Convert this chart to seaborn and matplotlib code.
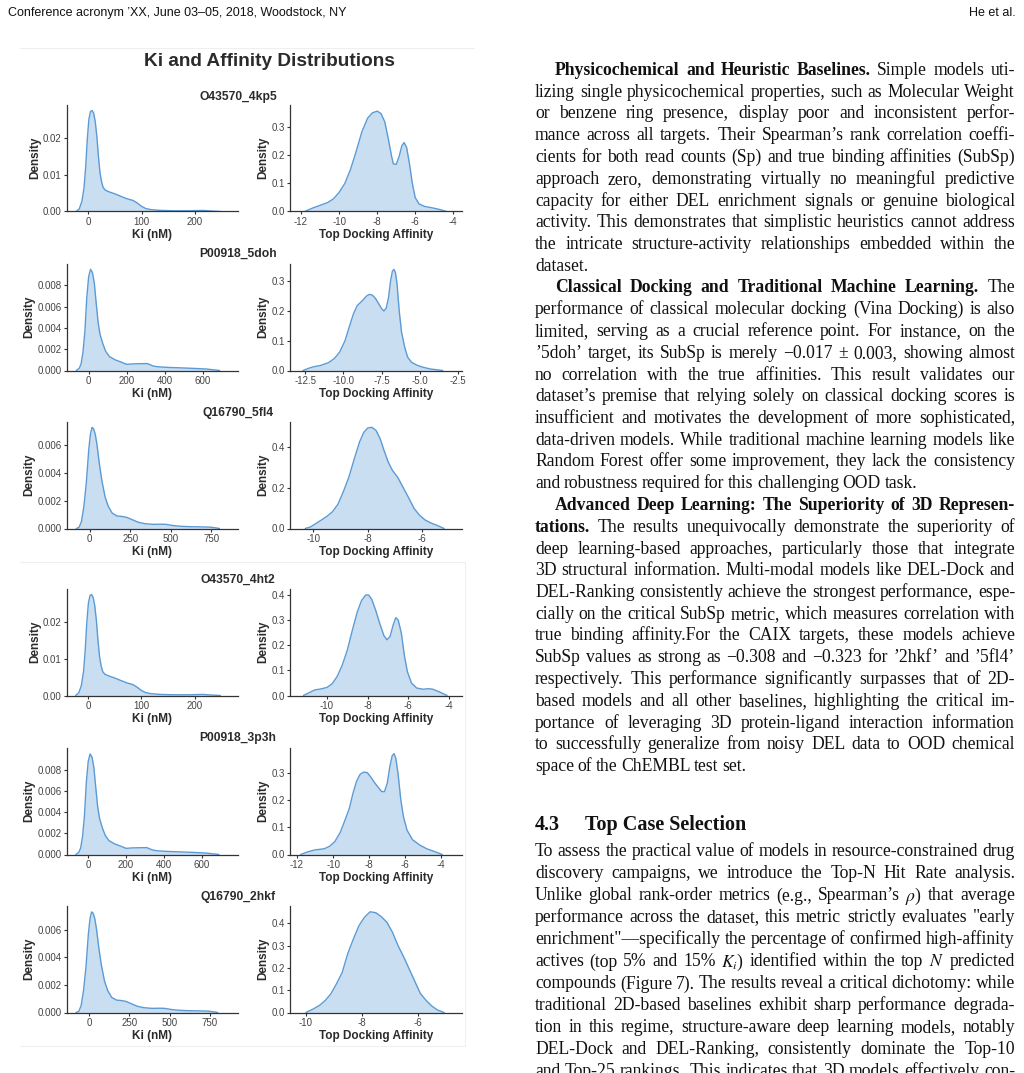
import matplotlib
matplotlib.use("Agg")
import matplotlib.pyplot as plt
from matplotlib.lines import Line2D
import seaborn as sns

# ---- data (density curves) ----
targets = ["O43570_4kp5", "P00918_5doh", "Q16790_5fl4",
           "O43570_4ht2", "P00918_3p3h", "Q16790_2hkf"]

ki_4kp5_x = [-23, -17, -12, -8, -5, -2, 1, 4, 7, 10, 13, 16, 19, 22, 25, 28, 32, 40, 50, 60,
             72, 84, 92, 100, 108, 118, 135, 160, 190, 215, 235, 248]
ki_4kp5_d = [0, 0.0007, 0.0028, 0.0065, 0.0120, 0.0195, 0.0250, 0.0272, 0.0275, 0.0268, 0.0245,
             0.0205, 0.0150, 0.0105, 0.0080, 0.0065, 0.0058, 0.0053, 0.0048, 0.0042, 0.0035,
             0.0030, 0.0023, 0.0014, 0.0008, 0.0005, 0.0003, 0.0002, 0.0002, 0.0003, 0.0001, 0]
aff_4kp5_x = [-11.8, -11.4, -11.0, -10.6, -10.3, -10.0, -9.7, -9.4, -9.1, -8.8, -8.5, -8.25, -8.0,
              -7.8, -7.6, -7.4, -7.25, -7.15, -7.0, -6.85, -6.7, -6.58, -6.45, -6.3, -6.15, -6.0,
              -5.8, -5.5, -5.1, -4.7, -4.35]
aff_4kp5_d = [0, 0.012, 0.022, 0.032, 0.045, 0.068, 0.100, 0.150, 0.215, 0.285, 0.333, 0.352, 0.358,
              0.350, 0.320, 0.255, 0.200, 0.170, 0.168, 0.195, 0.235, 0.246, 0.228, 0.170, 0.100,
              0.050, 0.027, 0.018, 0.013, 0.007, 0]

ki_5doh_x = [-65, -50, -40, -30, -20, -10, 0, 10, 20, 30, 40, 50, 60, 75, 90, 110, 140, 170, 200,
             230, 270, 310, 340, 370, 420, 480, 550, 620, 660, 690]
ki_5doh_d = [0, 0.0002, 0.0006, 0.0017, 0.0036, 0.0068, 0.0088, 0.0095, 0.0092, 0.0082, 0.0063,
             0.0045, 0.0034, 0.0025, 0.0018, 0.0013, 0.0010, 0.0008, 0.00058, 0.00062, 0.00064,
             0.00065, 0.00042, 0.00034, 0.00029, 0.00025, 0.0002, 0.00014, 0.00006, 0]
aff_5doh_x = [-12.65, -12.3, -12.0, -11.5, -11.0, -10.6, -10.25, -9.9, -9.6, -9.35, -9.1, -8.9,
              -8.7, -8.5, -8.3, -8.1, -7.9, -7.7, -7.5, -7.35, -7.2, -7.05, -6.92, -6.8, -6.7,
              -6.6, -6.5, -6.35, -6.2, -6.0, -5.8, -5.55, -5.2, -4.8, -4.3, -3.5]
aff_5doh_d = [0, 0.007, 0.012, 0.017, 0.026, 0.040, 0.062, 0.100, 0.150, 0.190, 0.218, 0.228,
              0.238, 0.250, 0.256, 0.253, 0.242, 0.225, 0.208, 0.200, 0.210, 0.245, 0.300, 0.333,
              0.340, 0.330, 0.295, 0.200, 0.130, 0.080, 0.045, 0.028, 0.018, 0.011, 0.005, 0]

ki_5fl4_x = [-82, -65, -50, -35, -20, -5, 5, 15, 25, 35, 45, 60, 75, 95, 115, 140, 170, 200, 230,
             260, 300, 340, 390, 440, 470, 510, 560, 620, 680, 740, 780, 800]
ki_5fl4_d = [0, 0.00008, 0.0005, 0.0016, 0.0033, 0.0057, 0.0068, 0.0073, 0.0072, 0.0068, 0.0061,
             0.0047, 0.0035, 0.0023, 0.0016, 0.0011, 0.0009, 0.00087, 0.0008, 0.00065, 0.00045,
             0.00035, 0.0003, 0.00031, 0.0003, 0.00022, 0.00016, 0.00013, 0.00012, 0.0001,
             0.00004, 0]
aff_5fl4_x = [-10.3, -10.1, -9.9, -9.7, -9.5, -9.3, -9.1, -8.9, -8.7, -8.5, -8.3, -8.15, -8.0,
              -7.85, -7.7, -7.55, -7.4, -7.25, -7.1, -6.9, -6.7, -6.5, -6.3, -6.1, -5.9, -5.7,
              -5.45, -5.2]
aff_5fl4_d = [0, 0.008, 0.025, 0.042, 0.060, 0.082, 0.118, 0.180, 0.250, 0.340, 0.425, 0.470,
              0.492, 0.495, 0.480, 0.440, 0.380, 0.325, 0.285, 0.250, 0.200, 0.150, 0.098, 0.065,
              0.042, 0.028, 0.015, 0]

ki_4ht2_x = [-23, -17, -12, -8, -5, -2, 1, 4, 7, 10, 13, 16, 19, 22, 25, 28, 32, 40, 50, 60,
             72, 84, 92, 100, 108, 118, 135, 160, 190, 215, 235, 248]
ki_4ht2_d = [0, 0.0007, 0.0028, 0.0066, 0.0122, 0.0198, 0.0252, 0.0273, 0.0276, 0.0268, 0.0245,
             0.0205, 0.0150, 0.0105, 0.0080, 0.0065, 0.0058, 0.0053, 0.0048, 0.0042, 0.0035,
             0.0030, 0.0023, 0.0014, 0.0008, 0.0005, 0.0003, 0.0002, 0.0002, 0.0003, 0.0001, 0]
aff_4ht2_x = [-11.15, -10.9, -10.6, -10.3, -10.0, -9.75, -9.5, -9.25, -9.0, -8.75, -8.5, -8.3,
              -8.1, -7.95, -7.8, -7.6, -7.4, -7.2, -7.05, -6.9, -6.75, -6.62, -6.5, -6.35, -6.2,
              -6.05, -5.85, -5.6, -5.3, -5.0, -4.8, -4.5, -4.1]
aff_4ht2_d = [0, 0.010, 0.022, 0.026, 0.032, 0.046, 0.075, 0.120, 0.180, 0.260, 0.335, 0.378,
              0.400, 0.400, 0.383, 0.338, 0.285, 0.238, 0.222, 0.235, 0.280, 0.310, 0.300, 0.250,
              0.160, 0.095, 0.050, 0.030, 0.025, 0.027, 0.025, 0.015, 0]

ki_3p3h_x = [-65, -50, -40, -30, -20, -10, 0, 10, 20, 30, 40, 50, 60, 75, 90, 110, 140, 170, 200,
             230, 270, 310, 340, 370, 420, 480, 550, 620, 660, 690]
ki_3p3h_d = [0, 0.0002, 0.0006, 0.0017, 0.0036, 0.0068, 0.0088, 0.0095, 0.0092, 0.0082, 0.0063,
             0.0045, 0.0034, 0.0025, 0.0018, 0.0013, 0.0010, 0.0008, 0.00058, 0.00062, 0.00064,
             0.00065, 0.00042, 0.00034, 0.00029, 0.00025, 0.0002, 0.00014, 0.00006, 0]
aff_3p3h_x = [-11.8, -11.4, -11.0, -10.5, -10.2, -9.9, -9.6, -9.35, -9.1, -8.9, -8.7, -8.5, -8.3,
              -8.1, -7.9, -7.7, -7.5, -7.3, -7.15, -7.0, -6.85, -6.72, -6.62, -6.52, -6.4, -6.25,
              -6.1, -5.9, -5.6, -5.2, -4.8, -4.3, -3.95]
aff_3p3h_d = [0, 0.010, 0.017, 0.021, 0.030, 0.048, 0.082, 0.125, 0.170, 0.225, 0.270, 0.296,
              0.304, 0.302, 0.285, 0.265, 0.248, 0.232, 0.232, 0.262, 0.325, 0.365, 0.372, 0.355,
              0.300, 0.205, 0.140, 0.090, 0.055, 0.035, 0.021, 0.009, 0]

ki_2hkf_x = [-82, -65, -50, -35, -20, -5, 5, 15, 25, 35, 45, 60, 75, 95, 115, 140, 170, 200, 230,
             260, 300, 340, 390, 440, 470, 510, 560, 620, 680, 740, 780, 800]
ki_2hkf_d = [0, 0.00008, 0.0005, 0.0016, 0.0033, 0.0057, 0.0068, 0.0073, 0.0072, 0.0068, 0.0061,
             0.0047, 0.0035, 0.0023, 0.0016, 0.0011, 0.0009, 0.00087, 0.0008, 0.00065, 0.00045,
             0.00035, 0.0003, 0.00031, 0.0003, 0.00022, 0.00016, 0.00013, 0.00012, 0.0001,
             0.00004, 0]
aff_2hkf_x = [-10.0, -9.75, -9.5, -9.3, -9.1, -8.9, -8.7, -8.5, -8.3, -8.1, -7.9, -7.7, -7.5, -7.3,
              -7.1, -6.9, -6.7, -6.5, -6.3, -6.1, -5.9, -5.7, -5.5, -5.3, -5.05]
aff_2hkf_d = [0, 0.015, 0.033, 0.055, 0.085, 0.130, 0.180, 0.265, 0.330, 0.390, 0.428, 0.452,
              0.448, 0.430, 0.405, 0.360, 0.300, 0.250, 0.195, 0.140, 0.085, 0.055, 0.030, 0.012, 0]

ki_curves = [(ki_4kp5_x, ki_4kp5_d), (ki_5doh_x, ki_5doh_d), (ki_5fl4_x, ki_5fl4_d),
             (ki_4ht2_x, ki_4ht2_d), (ki_3p3h_x, ki_3p3h_d), (ki_2hkf_x, ki_2hkf_d)]
aff_curves = [(aff_4kp5_x, aff_4kp5_d), (aff_5doh_x, aff_5doh_d), (aff_5fl4_x, aff_5fl4_d),
              (aff_4ht2_x, aff_4ht2_d), (aff_3p3h_x, aff_3p3h_d), (aff_2hkf_x, aff_2hkf_d)]

# tick labels per row
ki_xticks = [[0, 100, 200], [0, 200, 400, 600], [0, 250, 500, 750],
             [0, 100, 200], [0, 200, 400, 600], [0, 250, 500, 750]]
ki_yticks = [[0, 0.01, 0.02], [0, 0.002, 0.004, 0.006, 0.008], [0, 0.002, 0.004, 0.006],
             [0, 0.01, 0.02], [0, 0.002, 0.004, 0.006, 0.008], [0, 0.002, 0.004, 0.006]]
aff_xticks = [[-12, -10, -8, -6, -4], [-12.5, -10, -7.5, -5, -2.5], [-10, -8, -6],
              [-10, -8, -6, -4], [-12, -10, -8, -6, -4], [-10, -8, -6]]
aff_yticks = [[0, 0.1, 0.2, 0.3], [0, 0.1, 0.2, 0.3], [0, 0.2, 0.4],
              [0, 0.1, 0.2, 0.3, 0.4], [0, 0.1, 0.2, 0.3], [0, 0.1, 0.2, 0.3, 0.4]]

# ---- text of the page ----
header_left = "Conference acronym ’XX, June 03–05, 2018, Woodstock, NY"
header_right = "He et al."

# each line: (indent, justify, [(text, bold), ...])
body_lines = [
    (True, True, [("Physicochemical and Heuristic Baselines.", True), ("Simple models uti-", False)]),
    (False, True, [("lizing single physicochemical properties, such as Molecular Weight", False)]),
    (False, True, [("or benzene ring presence, display poor and inconsistent perfor-", False)]),
    (False, True, [("mance across all targets. Their Spearman’s rank correlation coeffi-", False)]),
    (False, True, [("cients for both read counts (Sp) and true binding affinities (SubSp)", False)]),
    (False, True, [("approach zero, demonstrating virtually no meaningful predictive", False)]),
    (False, True, [("capacity for either DEL enrichment signals or genuine biological", False)]),
    (False, True, [("activity. This demonstrates that simplistic heuristics cannot address", False)]),
    (False, True, [("the intricate structure-activity relationships embedded within the", False)]),
    (False, False, [("dataset.", False)]),
    (True, True, [("Classical Docking and Traditional Machine Learning.", True), ("The", False)]),
    (False, True, [("performance of classical molecular docking (Vina Docking) is also", False)]),
    (False, True, [("limited, serving as a crucial reference point. For instance, on the", False)]),
    (False, True, [("’5doh’ target, its SubSp is merely −0.017 ± 0.003, showing almost", False)]),
    (False, True, [("no correlation with the true affinities. This result validates our", False)]),
    (False, True, [("dataset’s premise that relying solely on classical docking scores is", False)]),
    (False, True, [("insufficient and motivates the development of more sophisticated,", False)]),
    (False, True, [("data-driven models. While traditional machine learning models like", False)]),
    (False, True, [("Random Forest offer some improvement, they lack the consistency", False)]),
    (False, False, [("and robustness required for this challenging OOD task.", False)]),
    (True, True, [("Advanced Deep Learning: The Superiority of 3D Represen-", True)]),
    (False, True, [("tations.", True), ("The results unequivocally demonstrate the superiority of", False)]),
    (False, True, [("deep learning-based approaches, particularly those that integrate", False)]),
    (False, True, [("3D structural information. Multi-modal models like DEL-Dock and", False)]),
    (False, True, [("DEL-Ranking consistently achieve the strongest performance, espe-", False)]),
    (False, True, [("cially on the critical SubSp metric, which measures correlation with", False)]),
    (False, True, [("true binding affinity.For the CAIX targets, these models achieve", False)]),
    (False, True, [("SubSp values as strong as −0.308 and −0.323 for ’2hkf’ and ’5fl4’", False)]),
    (False, True, [("respectively. This performance significantly surpasses that of 2D-", False)]),
    (False, True, [("based models and all other baselines, highlighting the critical im-", False)]),
    (False, True, [("portance of leveraging 3D protein-ligand interaction information", False)]),
    (False, True, [("to successfully generalize from noisy DEL data to OOD chemical", False)]),
    (False, False, [("space of the ChEMBL test set.", False)]),
]
section_num = "4.3"
section_title = "Top Case Selection"
section_lines = [
    "To assess the practical value of models in resource-constrained drug",
    "discovery campaigns, we introduce the Top-N Hit Rate analysis.",
    r"Unlike global rank-order metrics (e.g., Spearman’s $\rho$) that average",
    "performance across the dataset, this metric strictly evaluates \"early",
    "enrichment\"—specifically the percentage of confirmed high-affinity",
    r"actives (top 5% and 15% $K_i$) identified within the top $N$ predicted",
    "compounds (Figure 7). The results reveal a critical dichotomy: while",
    "traditional 2D-based baselines exhibit sharp performance degrada-",
    "tion in this regime, structure-aware deep learning models, notably",
    "DEL-Dock and DEL-Ranking, consistently dominate the Top-10",
    "and Top-25 rankings. This indicates that 3D models effectively con-",
]

# ---- style ----
sns.set_theme(style="ticks")
SANS = ["Liberation Sans", "DejaVu Sans"]
SERIF = ["Liberation Serif", "DejaVu Serif"]
plt.rcParams["font.family"] = SANS
plt.rcParams["axes.unicode_minus"] = False
plt.rcParams["mathtext.fontset"] = "stix"

W, H = 1024, 1073
fig = plt.figure(figsize=(W / 100, H / 100), dpi=100)
fig.patch.set_facecolor("white")

line_c = "#5b9bd5"
dark = "#2b2b2b"


def fx(px):
    return px / W


def fy(py):
    return 1 - py / H


# axis ranges as in the original panels
ki_xlim = [(-40, 281), (-114, 787), (-139, 914), (-39, 281), (-112, 791), (-138, 926)]
ki_ylim = [0.0290, 0.0100, 0.00769, 0.0291, 0.01006, 0.00773]
aff_xlim = [(-12.58, -3.54), (-13.5, -2.24), (-10.86, -4.54), (-11.81, -3.37),
            (-12.39, -2.85), (-10.57, -4.41)]
aff_ylim = [0.380, 0.358, 0.521, 0.424, 0.393, 0.478]

# faint borders of the pasted figure images
for (xa, ya, xb, yb) in [(20, 48, 474, 48), (20, 562, 465, 562), (465, 562, 465, 1046), (20, 1046, 465, 1046)]:
    fig.add_artist(Line2D([fx(xa), fx(xb)], [fy(ya), fy(yb)], color="#efefef", lw=0.8))

fig.text(fx(269), fy(62), "Ki and Affinity Distributions", ha="center", va="center",
         fontsize=13.7, fontweight="bold", color=dark)

row_tops = [105, 264, 422, 589, 748, 906]
sub_y = [97, 254, 413, 580, 738, 897]
ax_h = 106.5

for i in range(6):
    fig.text(fx(238), fy(sub_y[i]), targets[i], ha="center", va="center",
             fontsize=8.7, fontweight="bold", color=dark)
    for j, (x0, x1) in enumerate([(67, 238), (290, 462)]):
        ax = fig.add_axes([fx(x0), fy(row_tops[i] + ax_h), (x1 - x0) / W, ax_h / H])
        if j == 0:
            xs, ds = ki_curves[i]
            xt, yt = ki_xticks[i], ki_yticks[i]
            xlim, ytop = ki_xlim[i], ki_ylim[i]
            xl = "Ki (nM)"
        else:
            xs, ds = aff_curves[i]
            xt, yt = aff_xticks[i], aff_yticks[i]
            xlim, ytop = aff_xlim[i], aff_ylim[i]
            xl = "Top Docking Affinity"
        ax.fill_between(xs, ds, 0, color=line_c, alpha=0.33, linewidth=0)
        sns.lineplot(x=xs, y=ds, ax=ax, color=line_c, linewidth=1.0)
        ax.set_xlim(*xlim)
        ax.set_ylim(0, ytop)
        ax.set_xticks(xt)
        ax.set_yticks(yt)
        ax.set_xlabel(xl, fontsize=8.5, fontweight="bold", color=dark, labelpad=1.5)
        ax.set_ylabel("Density", fontsize=8.5, fontweight="bold", color=dark, labelpad=1.5)
        ax.tick_params(axis="both", length=2.2, width=0.8, color="#333333", labelsize=7,
                       labelcolor="#444444", pad=1.5)
        for s in ["left", "bottom"]:
            ax.spines[s].set_linewidth(0.9)
            ax.spines[s].set_color("#333333")
        ax.set_facecolor("white")
        sns.despine(ax=ax)

# ---- page text ----
renderer = fig.canvas.get_renderer()
BODY = 12.7
X_L, X_R, INDENT = 535, 1015, 20


def word_w(word, bold, size):
    t = fig.text(0, 0, word, fontsize=size, family=SERIF, fontweight="bold" if bold else "normal")
    w = t.get_window_extent(renderer=renderer).width
    t.remove()
    return w


def put_line(yb, segs, indent=False, justify=True, size=BODY):
    words = []
    for text, bold in segs:
        for w in text.split(" "):
            if w:
                words.append((w, bold))
    widths = [word_w(w, b, size) for w, b in words]
    x = X_L + (INDENT if indent else 0)
    natural = 0.2 * size * 100 / 72
    if justify and len(words) > 1:
        gap = (X_R - x - sum(widths)) / (len(words) - 1)
    else:
        gap = natural
    for (w, b), wd in zip(words, widths):
        fig.text(fx(x), fy(yb), w, fontsize=size, family=SERIF, va="baseline", ha="left",
                 fontweight="bold" if b else "normal", color="#111111")
        x += wd + gap


fig.text(fx(8), fy(16), header_left, fontsize=9, family=SANS, va="baseline", color="#111111")
fig.text(fx(1016), fy(16), header_right, fontsize=9, family=SANS, va="baseline", ha="right",
         color="#111111")

lead = 21.75
for k, (ind, just, segs) in enumerate(body_lines):
    put_line(75 + lead * k, segs, indent=ind, justify=just)

fig.text(fx(535), fy(830), section_num, fontsize=14.5, family=SERIF, fontweight="bold",
         va="baseline", color="#111111")
fig.text(fx(585), fy(830), section_title, fontsize=14.5, family=SERIF, fontweight="bold",
         va="baseline", color="#111111")
for k, line in enumerate(section_lines):
    put_line(856.5 + 22.0 * k, [(line, False)], justify=True)

fig.savefig("out.png", dpi=100, facecolor="white")
